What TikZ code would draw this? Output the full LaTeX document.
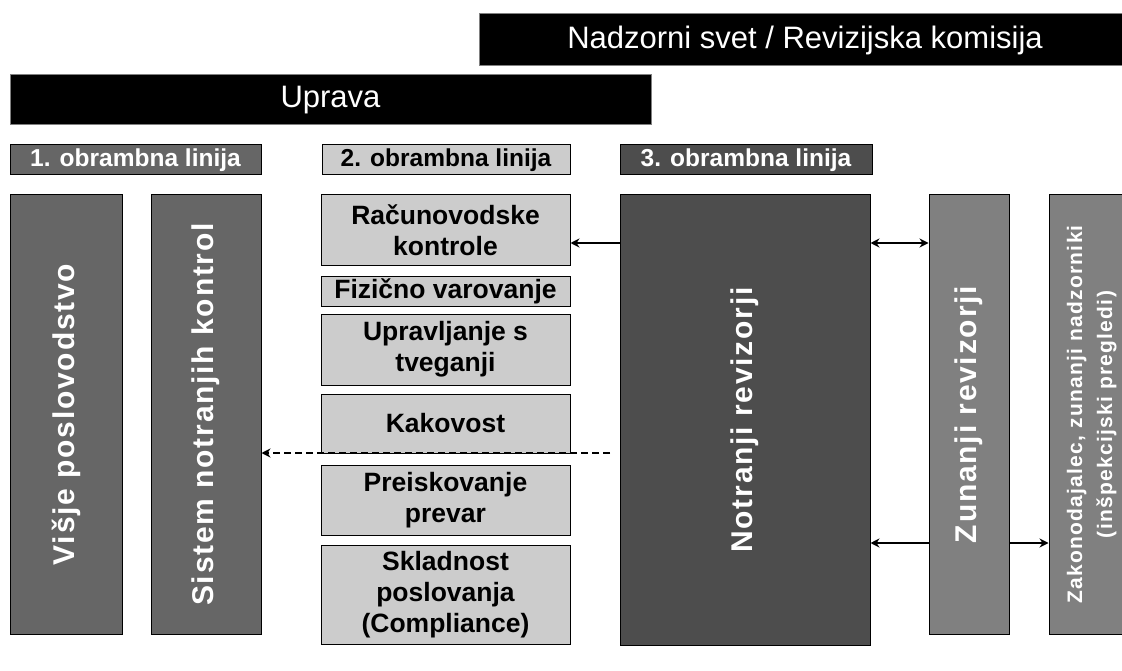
\documentclass[tikz,border=0pt]{standalone}
\usepackage{fontspec}
\usepackage{graphicx}
\setmainfont{Liberation Sans}
\newfontfamily\spacedfont[LetterSpace=6]{Liberation Sans}
\usetikzlibrary{arrows.meta}

\definecolor{lineone}{HTML}{666666}
\definecolor{linetwo}{HTML}{CCCCCC}
\definecolor{linethree}{HTML}{4D4D4D}
\definecolor{outside}{HTML}{808080}

\tikzset{
  headbox/.style={draw=gray, line width=1pt, fill=black, text=white, inner sep=0pt,
    font=\fontsize{31}{36}\selectfont},
  tagbox/.style={draw=black, line width=1pt, inner sep=0pt, minimum height=30,
    font=\bfseries\fontsize{24.5}{28}\selectfont},
  colbox/.style={draw=black, line width=1pt, text=white, inner sep=0pt,
    font=\spacedfont\bfseries\fontsize{30}{36}\selectfont},
  ctrlbox/.style={draw=black, line width=1pt, fill=linetwo, align=center, inner sep=0pt,
    minimum width=249, font=\bfseries\fontsize{26.5}{31}\selectfont},
  link/.style={line width=2.5pt, -{Stealth[length=9pt,width=9pt]}},
}

\begin{document}
\begin{tikzpicture}[x=1pt,y=-1pt]
        \useasboundingbox (0,0) rectangle (1122,671);

        % Draw nodes
        % Draw header bars
        \node[headbox,minimum width=652,minimum height=52] (nadzor) at (805,40) {Nadzorni svet / Revizijska komisija};
        \node[headbox,minimum width=641,minimum height=50] (uprava) at (330.5,100) {Uprava};

        % Draw line labels
        \node[tagbox,fill=lineone,text=white,minimum width=251] (tag1) at (135.5,160) {1. obrambna linija};
        \node[tagbox,fill=linetwo,text=black,minimum width=248] (tag2) at (446,160) {2. obrambna linija};
        \node[tagbox,fill=linethree,text=white,minimum width=252] (tag3) at (746,160) {3. obrambna linija};

        % Draw columns
        \node[colbox,fill=lineone,minimum width=112,minimum height=439] (visje) at (66,414.5) {\rotatebox{90}{Višje poslovodstvo}};
        \node[colbox,fill=lineone,minimum width=110,minimum height=439] (sistem) at (206,414.5) {\rotatebox{90}{Sistem notranjih kontrol}};
        \node[colbox,fill=linethree,minimum width=250,minimum height=450] (notr) at (745,420) {\rotatebox{90}{Notranji revizorji}};
        \node[colbox,fill=outside,minimum width=80,minimum height=439] (zun) at (969,414.5) {\rotatebox{90}{Zunanji revizorji}};
        \node[colbox,fill=outside,minimum width=84,minimum height=439,
              font=\spacedfont\bfseries\fontsize{21}{30}\selectfont] (zakon) at (1091,414.5)
              {\rotatebox{90}{\begin{tabular}{@{}c@{}}Zakonodajalec, zunanji nadzorniki\\(inšpekcijski pregledi)\end{tabular}}};

        % Draw control boxes
        \node[ctrlbox,minimum height=71] (racun) at (445.5,230.5) {Računovodske\\kontrole};
        \node[ctrlbox,minimum height=30] (fizic) at (445.5,291) {Fizično varovanje};
        \node[ctrlbox,minimum height=71] (tveg) at (445.5,349.5) {Upravljanje s\\tveganji};
        \node[ctrlbox,minimum height=59] (kakov) at (445.5,423.5) {Kakovost};
        \node[ctrlbox,minimum height=70] (prevar) at (445.5,500) {Preiskovanje\\prevar};
        \node[ctrlbox,minimum height=99] (sklad) at (445.5,594.5) {Skladnost\\poslovanja\\(Compliance)};

        % Draw connector rows
        \coordinate (rowtop) at (0,243);
        \coordinate (rowdash) at (0,453);
        \coordinate (rowlow) at (0,543);
        \coordinate (dashend) at (610,453);

        % Draw edges explicitly
        \draw[link] (notr.west |- rowtop) -- (racun.east |- rowtop);
        \draw[link,{Stealth[length=9pt,width=9pt]}-{Stealth[length=9pt,width=9pt]}] (notr.east |- rowtop) -- (zun.west |- rowtop);
        \draw[link] (zun.west |- rowlow) -- (notr.east |- rowlow);
        \draw[link] (zun.east |- rowlow) -- (zakon.west |- rowlow);
        \draw[link,dash pattern=on 7pt off 4pt] (dashend) -- (sistem.east |- rowdash);
    \end{tikzpicture}
\end{document}
